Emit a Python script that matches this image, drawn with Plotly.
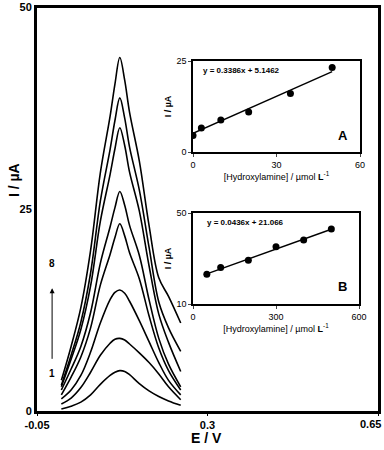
import plotly.graph_objects as go

# ---- main voltammograms (E / V vs I / µA), curves 1..8 ----
potential = [0.0, 0.02, 0.04, 0.06, 0.08, 0.10, 0.11, 0.12, 0.13, 0.14, 0.16, 0.18, 0.20, 0.22, 0.245]
curve1 = [0.25, 0.6, 1.1, 2.0, 3.3, 4.4, 4.8, 5.0, 4.9, 4.5, 3.4, 2.5, 1.8, 1.25, 0.7]
curve2 = [0.87, 1.6, 2.9, 4.8, 6.9, 8.4, 8.9, 9.0, 8.8, 8.3, 7.2, 6.0, 4.6, 3.0, 1.4]
curve3 = [1.5, 2.6, 4.4, 7.3, 10.9, 13.8, 14.7, 15.0, 14.6, 13.6, 11.2, 8.6, 6.0, 3.8, 2.0]
curve4 = [2.0, 4.2, 6.7, 10.3, 15.6, 19.4, 21.5, 23.2, 21.7, 19.6, 16.4, 11.8, 7.8, 5.0, 2.6]
curve5 = [2.6, 5.2, 8.0, 12.2, 18.3, 22.8, 25.2, 27.2, 25.5, 23.0, 19.3, 13.8, 9.0, 5.8, 3.0]
curve6 = [3.0, 6.4, 10.1, 15.5, 23.5, 29.3, 32.5, 35.1, 32.9, 29.6, 24.8, 18.0, 12.0, 8.5, 4.9]
curve7 = [3.2, 6.9, 11.0, 17.1, 26.0, 32.4, 36.0, 38.8, 36.3, 32.7, 27.4, 20.3, 13.5, 10.3, 7.4]
curve8 = [3.8, 8.0, 12.8, 19.9, 29.5, 36.5, 40.5, 43.8, 41.0, 37.0, 31.0, 23.0, 16.5, 14.2, 10.9]
curves = [curve1, curve2, curve3, curve4, curve5, curve6, curve7, curve8]

main_xticks = [-0.05, 0.3, 0.65]
main_xticktext = ["-0.05", "0.3", "0.65"]
main_yticks = [0, 25, 50]

# ---- inset A ----
conc_a = [0, 3, 10, 20, 35, 50]
current_a = [4.5, 6.6, 8.8, 11.0, 16.1, 23.2]
slope_a, intercept_a = 0.3386, 5.1462
eq_a = "y = 0.3386x + 5.1462"

# ---- inset B ----
conc_b = [50, 100, 200, 300, 400, 500]
current_b = [23.1, 26.0, 29.2, 35.2, 38.1, 43.0]
slope_b, intercept_b = 0.0436, 21.066
eq_b = "y = 0.0436x + 21.066"

FONT = "Liberation Sans, Arial, sans-serif"

fig = go.Figure()
for c in curves:
    fig.add_trace(go.Scatter(x=potential, y=c, mode="lines", line=dict(color="black", width=1.6, shape="spline"),
                             xaxis="x", yaxis="y", showlegend=False, hoverinfo="skip"))

# inset A
fig.add_trace(go.Scatter(x=conc_a, y=current_a, mode="markers", marker=dict(color="black", size=7),
                         xaxis="x2", yaxis="y2", showlegend=False))
fa = [conc_a[0], conc_a[-1]]
fig.add_trace(go.Scatter(x=fa, y=[slope_a * v + intercept_a for v in fa], mode="lines",
                         line=dict(color="black", width=1.4), xaxis="x2", yaxis="y2", showlegend=False))
# inset B
fig.add_trace(go.Scatter(x=conc_b, y=current_b, mode="markers", marker=dict(color="black", size=7),
                         xaxis="x3", yaxis="y3", showlegend=False))
fb = [conc_b[0], conc_b[-1]]
fig.add_trace(go.Scatter(x=fb, y=[slope_b * v + intercept_b for v in fb], mode="lines",
                         line=dict(color="black", width=1.4), xaxis="x3", yaxis="y3", showlegend=False))

W, H = 384, 450
def px(x):
    return x / W
def py(y):
    return 1 - y / H

main_tick_font = dict(family=FONT, size=11, color="black", weight="bold")
inset_tick_font = dict(family=FONT, size=9, color="black")

xtitle_inset = "[Hydroxylamine] / µmol <b>L</b><sup>-1</sup>"

# the last x tick label sits at the page edge, so it is drawn as a right-aligned annotation
axis_ticktext = main_xticktext[:-1] + [""]

fig.update_layout(
    width=W, height=H, margin=dict(l=0, r=0, t=0, b=0, autoexpand=False),
    paper_bgcolor="white", plot_bgcolor="white",
    font=dict(family=FONT, color="black"),
    xaxis=dict(domain=[px(37), px(378)], range=[-0.05, 0.65], tickvals=main_xticks, ticktext=axis_ticktext,
               showline=True, mirror=True, linecolor="black", linewidth=3, ticks="outside", ticklen=2,
               tickcolor="black", showgrid=False, zeroline=False, tickfont=main_tick_font, anchor="y",
               automargin=False),
    yaxis=dict(domain=[py(411), py(7.5)], range=[0, 50], tickvals=main_yticks,
               showline=True, mirror=True, linecolor="black", linewidth=3, ticks="",
               showgrid=False, zeroline=False, tickfont=main_tick_font, anchor="x", automargin=False),
    xaxis2=dict(domain=[px(193), px(360)], range=[0, 60], tickvals=[0, 30, 60],
                showline=True, mirror=True, linecolor="black", linewidth=1.5, ticks="outside", ticklen=3,
                showgrid=False, zeroline=False, tickfont=inset_tick_font, anchor="y2", automargin=False,
                title=dict(text=xtitle_inset, font=dict(family=FONT, size=9), standoff=5)),
    yaxis2=dict(domain=[py(152), py(61)], range=[0, 25], tickvals=[0, 25],
                showline=True, mirror=True, linecolor="black", linewidth=1.5, ticks="outside", ticklen=3,
                showgrid=False, zeroline=False, tickfont=inset_tick_font, anchor="x2", automargin=False,
                title=dict(text="<b>I / µA</b>", font=dict(family=FONT, size=9), standoff=3)),
    xaxis3=dict(domain=[px(193), px(359)], range=[0, 600], tickvals=[0, 300, 600],
                showline=True, mirror=True, linecolor="black", linewidth=1.5, ticks="outside", ticklen=3,
                showgrid=False, zeroline=False, tickfont=inset_tick_font, anchor="y3", automargin=False,
                title=dict(text=xtitle_inset, font=dict(family=FONT, size=9), standoff=5)),
    yaxis3=dict(domain=[py(304), py(213)], range=[10, 50], tickvals=[10, 50],
                showline=True, mirror=True, linecolor="black", linewidth=1.5, ticks="outside", ticklen=3,
                showgrid=False, zeroline=False, tickfont=inset_tick_font, anchor="x3", automargin=False,
                title=dict(text="<b>I / µA</b>", font=dict(family=FONT, size=9), standoff=3)),
)

ann = []
# last x tick label
ann.append(dict(text=main_xticktext[-1], x=px(383), y=py(424), xref="paper", yref="paper", showarrow=False,
                xanchor="right", yanchor="middle", font=main_tick_font))
# main axis titles
ann.append(dict(text="<b>I / µA</b>", x=px(14), y=py(180), xref="paper", yref="paper", showarrow=False,
                xanchor="center", yanchor="middle",
                textangle=-90, font=dict(family=FONT, size=14, color="black")))
ann.append(dict(text="<b>E / V</b>", x=px(206), y=py(438), xref="paper", yref="paper", showarrow=False,
                xanchor="center", yanchor="middle",
                font=dict(family=FONT, size=14, color="black")))
# arrow 1 -> 8
ann.append(dict(x=-0.019, y=15.2, xref="x", yref="y", ax=0, ay=72, axref="pixel", ayref="pixel",
                showarrow=True, arrowhead=2, arrowsize=1, arrowwidth=1, arrowcolor="black", text=""))
ann.append(dict(text="<b>8</b>", x=-0.019, y=18.3, xref="x", yref="y", showarrow=False,
                font=dict(family=FONT, size=10, color="black")))
ann.append(dict(text="<b>1</b>", x=-0.019, y=4.6, xref="x", yref="y", showarrow=False,
                font=dict(family=FONT, size=10, color="black")))
# inset labels
ann.append(dict(text="<b>" + eq_a + "</b>", x=3, y=22.5, xref="x2", yref="y2", showarrow=False, xanchor="left",
                font=dict(family=FONT, size=8, color="black")))
ann.append(dict(text="<b>A</b>", x=54, y=4.5, xref="x2", yref="y2", showarrow=False,
                font=dict(family=FONT, size=13, color="black")))
ann.append(dict(text="<b>" + eq_b + "</b>", x=45, y=46, xref="x3", yref="y3", showarrow=False, xanchor="left",
                font=dict(family=FONT, size=8, color="black")))
ann.append(dict(text="<b>B</b>", x=540, y=17.5, xref="x3", yref="y3", showarrow=False,
                font=dict(family=FONT, size=13, color="black")))
fig.update_layout(annotations=ann)

fig.write_html("out.html")
